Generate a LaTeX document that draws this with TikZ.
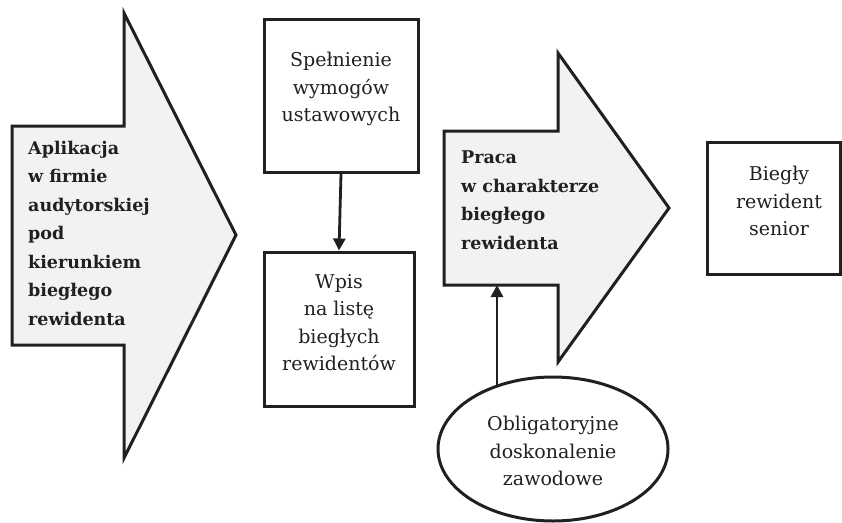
\documentclass[tikz,border=0pt]{standalone}
\usepackage{fontspec}
\setmainfont{DejaVu Serif}
\usetikzlibrary{arrows.meta,shapes.geometric}
\definecolor{arrowfill}{HTML}{F1F2F4}
\definecolor{ink}{HTML}{231F20}
\tikzset{
  outline/.style={draw=ink,line width=3pt,line join=miter},
  bigarrow/.style={outline,fill=arrowfill},
  boxnode/.style={outline,rectangle,inner sep=0pt},
  ovalnode/.style={outline,ellipse,inner sep=0pt,fill=white},
  plaintext/.style={align=center,text=ink,font=\fontsize{19}{27.5}\selectfont,inner sep=0pt},
  boldtext/.style={align=left,text=ink,font=\fontsize{17.5}{28.5}\selectfont\bfseries,inner sep=0pt},
  conn/.style={draw=ink,line width=2.8pt,-{Triangle[length=12pt,width=12pt]}}
}
\begin{document}
\begin{tikzpicture}[x=1pt,y=-1pt]
\useasboundingbox (0,0) rectangle (842,522);
% arrow 1
\draw[bigarrow] (12,126) -- (124,126) -- (124,13) -- (236,235) -- (124,458) -- (124,345) -- (12,345) -- cycle;
\node[boldtext,anchor=west] (apl) at (28,233) {Aplikacja\\w firmie\\audytorskiej\\pod\\kierunkiem\\biegłego\\rewidenta};
% arrow 2
\draw[bigarrow] (444,131) -- (558,131) -- (558,53) -- (669,208) -- (558,362) -- (558,285) -- (444,285) -- cycle;
\coordinate (a2bot) at (497,285);
\node[boldtext,anchor=west] (praca) at (461,200) {Praca\\w charakterze\\biegłego\\rewidenta};
% boxes
\node[boxnode,minimum width=154pt,minimum height=153pt] (spel) at (341,95.5) {};
\node[plaintext] (speltxt) at (341,89) {Spełnienie\\wymogów\\ustawowych};
\node[boxnode,minimum width=150pt,minimum height=154pt] (wpis) at (339,329) {};
\node[plaintext] (wpistxt) at (339,322.5) {Wpis\\na listę\\biegłych\\rewidentów};
\node[boxnode,minimum width=133pt,minimum height=132pt] (bieg) at (774,208) {};
\node[plaintext] (biegtxt) at (779,201) {Biegły\\rewident\\senior};
% ellipse
\node[ovalnode,minimum width=230pt,minimum height=144pt] (obl) at (553,449) {};
\node[plaintext] (obltxt) at (553,451) {Obligatoryjne\\doskonalenie\\zawodowe};
\coordinate (oblstart) at (497,386);
% connectors
\draw[conn] (spel.south) -- (wpis.north);
\draw[conn] (oblstart) -- (a2bot);
\end{tikzpicture}
\end{document}
